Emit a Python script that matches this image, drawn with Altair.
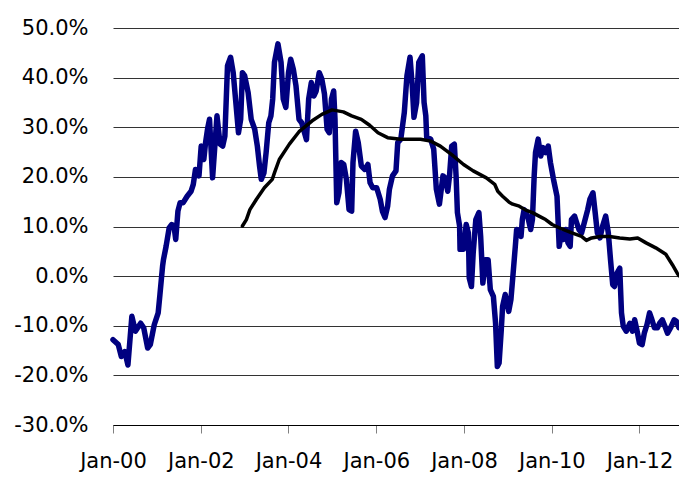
import altair as alt
import pandas as pd

# years since Jan 2000, and value in percent
blue_t = [0.00, 0.12, 0.19, 0.27, 0.34, 0.43, 0.51, 0.63, 0.70, 0.79, 0.85, 0.94,
          1.03, 1.07, 1.13, 1.15, 1.21, 1.28, 1.34, 1.39, 1.43, 1.48, 1.53, 1.60,
          1.69, 1.78, 1.83, 1.88, 1.96, 2.01, 2.07, 2.11, 2.16, 2.20, 2.27,
          2.37, 2.44, 2.50, 2.55, 2.61, 2.68, 2.74, 2.80, 2.86, 2.91, 2.95, 3.00,
          3.08, 3.15, 3.23, 3.29, 3.34, 3.38, 3.44, 3.49, 3.55, 3.60, 3.64, 3.68,
          3.76, 3.83, 3.88, 3.94, 4.00, 4.05, 4.11, 4.17, 4.24, 4.30, 4.41, 4.46,
          4.52, 4.58, 4.63, 4.70, 4.76, 4.82, 4.88, 4.93, 4.98, 5.03, 5.06, 5.10,
          5.15, 5.20, 5.26, 5.32, 5.38, 5.44, 5.47, 5.53, 5.59, 5.66, 5.74, 5.81,
          5.86, 5.92, 6.01, 6.09, 6.14, 6.20, 6.26, 6.30, 6.37, 6.45, 6.49, 6.56,
          6.64, 6.70, 6.77, 6.82, 6.86, 6.92, 6.97, 7.05, 7.09, 7.13, 7.15, 7.24,
          7.31, 7.37, 7.44, 7.52, 7.57, 7.63, 7.67, 7.72, 7.78, 7.82, 7.85, 7.90,
          7.91, 7.99, 8.05, 8.10, 8.12, 8.17, 8.21, 8.27, 8.34, 8.38, 8.43, 8.49,
          8.55, 8.60, 8.67, 8.72, 8.76, 8.80, 8.85, 8.88, 8.94, 9.02, 9.07, 9.12,
          9.17, 9.20, 9.26, 9.30, 9.33, 9.37, 9.45, 9.52, 9.56, 9.60, 9.63, 9.69,
          9.75, 9.80, 9.86, 9.92, 9.97, 10.04, 10.12, 10.14, 10.17, 10.22, 10.27,
          10.32, 10.37, 10.42, 10.45, 10.52, 10.57, 10.62, 10.68, 10.74, 10.82,
          10.87, 10.94, 10.99, 11.04, 11.10, 11.16, 11.23, 11.29, 11.34, 11.39,
          11.43, 11.49, 11.55, 11.59, 11.63, 11.70, 11.78, 11.84, 11.89, 11.94,
          12.00, 12.06, 12.11, 12.17, 12.23, 12.27, 12.34, 12.41, 12.46, 12.52,
          12.58, 12.64, 12.71, 12.79, 12.84, 12.90]
blue_v = [-12.8, -13.8, -16.2, -15.2, -17.9, -8.1, -11.1, -9.5, -10.4, -14.5, -13.8, -9.8,
          -7.4, -3.7, 2.0, 3.3, 6.0, 9.7, 10.4, 10.1, 7.4, 13.1, 14.8, 14.8,
          16.1, 17.1, 18.5, 21.5, 20.2, 26.2, 23.5, 26.9, 29.9, 31.6, 19.8,
          32.3, 26.6, 26.2, 28.2, 42.4, 44.1, 41.0, 35.0, 28.9, 31.6, 41.0, 40.4,
          37.0, 31.6, 29.6, 26.2, 22.2, 19.5, 20.8, 24.9, 30.9, 32.3, 35.7, 43.1,
          46.8, 43.1, 35.7, 34.0, 41.0, 43.7, 41.7, 38.4, 31.6, 30.9, 27.5, 35.7,
          39.0, 36.3, 37.3, 41.0, 39.7, 36.7, 29.6, 28.9, 35.7, 37.3, 31.6, 14.8,
          16.8, 22.9, 22.5, 19.5, 13.4, 13.1, 22.9, 29.2, 26.9, 22.2, 21.5, 22.5,
          18.8, 17.8, 17.8, 15.5, 13.1, 11.8, 14.1, 17.5, 20.2, 21.2, 26.9, 27.6,
          33.0, 40.4, 44.1, 38.4, 32.0, 35.0, 43.1, 44.4, 35.0, 32.3, 27.9, 27.6,
          25.6, 17.5, 14.5, 20.2, 19.8, 17.1, 20.2, 26.2, 26.6, 20.2, 12.8, 10.1,
          5.4, 5.4, 10.4, 8.7, -0.4, -2.1, 4.7, 11.4, 12.8, 8.0, -1.4, 3.3,
          3.3, -2.7, -4.1, -9.5, -18.2, -17.5, -10.8, -6.1, -3.7, -7.1, -4.7, 0.6,
          6.0, 9.4, 9.1, 8.0, 11.4, 13.4, 12.1, 9.4, 11.4, 20.2, 24.9, 27.6,
          24.2, 25.9, 24.9, 26.2, 22.9, 19.5, 16.1, 12.1, 6.0, 8.7, 7.4,
          9.4, 6.7, 6.0, 11.4, 12.1, 10.7, 9.4, 8.7, 10.7, 13.4,
          15.5, 16.8, 12.8, 8.7, 7.7, 10.1, 12.1, 8.7, 3.3, -1.7,
          -2.1, 0.6, 1.6, -7.4, -10.1, -11.1, -9.5, -11.1, -8.8, -10.8,
          -13.5, -13.8, -11.5, -9.8, -7.4, -8.4, -10.4, -10.4, -9.5, -8.8,
          -10.1, -11.5, -10.4, -8.8, -9.1, -10.4]

black_t = [2.95, 3.04, 3.12, 3.27, 3.45, 3.63, 3.68, 3.79, 4.02, 4.24, 4.54, 4.76,
           4.99, 5.25, 5.44, 5.66, 5.85, 6.04, 6.26, 6.56, 7.01, 7.24, 7.46, 7.72,
           7.99, 8.21, 8.51, 8.70, 8.77, 8.88, 9.03, 9.11, 9.26, 9.41, 9.56, 9.71,
           9.86, 10.01, 10.23, 10.46, 10.68, 10.79, 10.91, 11.10, 11.32, 11.55,
           11.78, 11.96, 12.15, 12.37, 12.60, 12.75, 12.86, 12.90]
black_v = [10.1, 11.4, 13.4, 15.5, 17.8, 19.5, 20.8, 23.5, 26.6, 29.1, 31.3, 32.6,
           33.5, 33.1, 32.3, 31.6, 30.4, 28.9, 27.9, 27.6, 27.6, 27.2, 26.2, 24.5,
           22.5, 21.2, 19.8, 18.5, 17.1, 16.1, 14.9, 14.5, 14.1, 13.3, 12.8, 12.1,
           11.4, 10.4, 9.5, 8.7, 8.0, 7.2, 7.7, 8.0, 8.0, 7.7,
           7.5, 7.7, 6.7, 5.7, 4.4, 2.3, 0.6, 0.1]

y_ticks = [-30, -20, -10, 0, 10, 20, 30, 40, 50]
x_tick_years = [2000, 2002, 2004, 2006, 2008, 2010, 2012]

base = pd.Timestamp("2000-01-01")


def to_dates(ts):
    return [(base + pd.Timedelta(days=t * 365.25)).strftime("%Y-%m-%dT%H:%M:%S") for t in ts]


df_blue = pd.DataFrame({"date": to_dates(blue_t), "value": blue_v})
df_black = pd.DataFrame({"date": to_dates(black_t), "value": black_v})

FONT = "DejaVu Sans"
FSIZE = 21

x_scale = alt.Scale(
    domain=[alt.DateTime(year=2000, month=1, date=1), alt.DateTime(year=2012, month=11, date=25)],
    nice=False,
)
y_scale = alt.Scale(domain=[-30, 50], nice=False)

x_axis = alt.Axis(
    values=[alt.DateTime(year=y, month=1, date=1) for y in x_tick_years],
    format="%b-%y",
    title=None,
    grid=False,
    labelFont=FONT,
    labelFontSize=FSIZE,
    labelColor="black",
    labelPadding=17,
    labelOverlap=False,
    labelFlush=False,
    labelBound=False,
    tickColor="#808080",
    tickSize=8,
    tickWidth=1,
    domainColor="black",
    domainWidth=1,
)
y_axis = alt.Axis(
    values=y_ticks,
    labelExpr="(datum.value < 0 ? '-' : '') + format(abs(datum.value), '.1f') + '%'",
    title=None,
    domain=False,
    ticks=False,
    tickSize=0,
    labelPadding=25,
    labelOverlap=False,
    labelFont=FONT,
    labelFontSize=FSIZE,
    labelColor="black",
    grid=True,
    gridColor="#333333",
    gridWidth=1,
)

blue = alt.Chart(df_blue).mark_line(
    color="#000080", strokeWidth=5.5, strokeJoin="round", strokeCap="round"
).encode(
    x=alt.X("date:T", scale=x_scale, axis=x_axis),
    y=alt.Y("value:Q", scale=y_scale, axis=y_axis),
)

black = alt.Chart(df_black).mark_line(
    color="#000000", strokeWidth=3.5, strokeJoin="round", strokeCap="round"
).encode(
    x=alt.X("date:T", scale=x_scale),
    y=alt.Y("value:Q", scale=y_scale),
)

chart = alt.layer(blue, black).properties(
    width=566,
    height=397,
    padding={"left": 105, "top": 20, "right": 0, "bottom": 48},
    autosize=alt.AutoSizeParams(type="none"),
    background="white",
).configure_view(stroke="transparent")

chart.save("out.html", embed_options={"renderer": "svg", "actions": False})
